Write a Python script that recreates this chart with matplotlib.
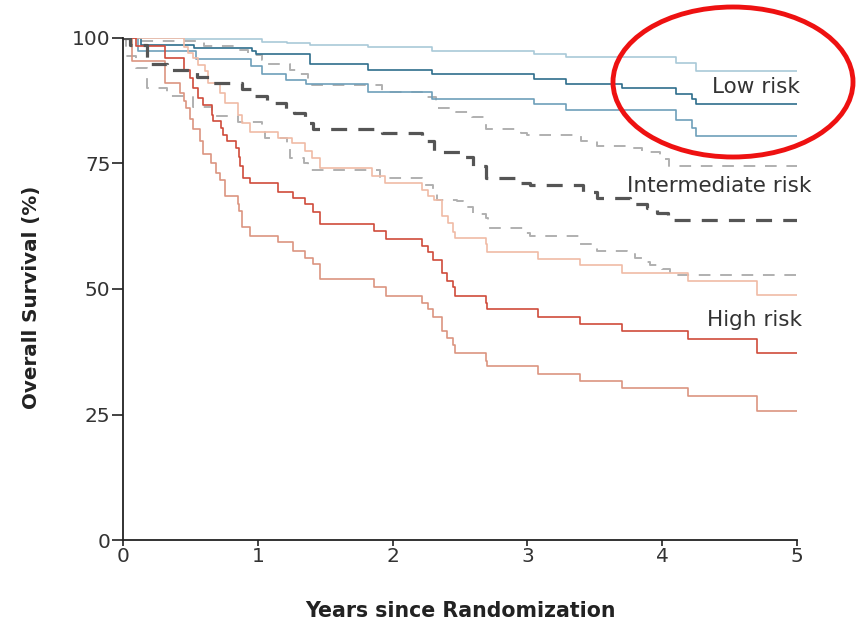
import matplotlib.pyplot as plt
from matplotlib.patches import Ellipse

plt.rcParams['font.family'] = ['DejaVu Sans']

# step times (years) and survival (%) after each step
low_upper_t = [0.45, 1.03, 1.22, 1.39, 1.82, 2.29, 3.05, 3.29, 4.10, 4.25]
low_upper_s = [99.8, 99.3, 99.1, 98.6, 98.2, 97.5, 96.9, 96.3, 95.1, 93.4]

low_mid_t = [0.13, 0.53, 0.96, 0.99, 1.39, 1.82, 2.29, 3.05, 3.29, 3.70, 4.10, 4.22, 4.25]
low_mid_s = [98.7, 98.1, 97.4, 96.9, 94.8, 93.6, 92.8, 91.8, 90.9, 90.1, 88.9, 87.8, 86.9]

low_lower_t = [0.11, 0.54, 0.95, 1.03, 1.21, 1.36, 1.82, 2.29, 3.05, 3.29, 4.10, 4.22, 4.25]
low_lower_s = [97.4, 95.8, 94.4, 92.8, 91.6, 90.8, 89.2, 87.8, 86.8, 85.6, 83.6, 82.1, 80.5]

int_mid_t = [0.05, 0.18, 0.33, 0.55, 0.65, 0.88, 0.96, 1.07, 1.21, 1.27, 1.35, 1.41,
             1.92, 2.22, 2.31, 2.50, 2.60, 2.69, 2.95, 3.02, 3.41, 3.52, 3.76, 3.89, 3.96, 4.04]
int_mid_s = [98.7, 94.8, 93.6, 92.2, 91.1, 89.8, 88.4, 87.1, 85.8, 85.1, 83.1, 81.9,
             81.0, 79.5, 77.2, 76.2, 74.5, 72.2, 71.2, 70.7, 69.4, 68.2, 66.9, 66.2, 65.2, 63.7]

int_upper_t = [0.10, 0.60, 0.85, 0.93, 1.03, 1.06, 1.24, 1.28, 1.37, 1.40, 1.92, 2.22, 2.32,
               2.47, 2.59, 2.69, 2.95, 3.00, 3.40, 3.52, 3.75, 3.85, 3.98, 4.05]
int_upper_s = [99.4, 98.4, 97.6, 96.6, 95.6, 94.8, 93.6, 92.8, 91.6, 90.6, 89.3, 88.2, 86.0,
               85.3, 84.3, 81.8, 81.0, 80.6, 79.5, 78.5, 78.0, 77.2, 75.9, 74.5]

int_lower_t = [0.02, 0.10, 0.18, 0.33, 0.52, 0.66, 0.85, 1.03, 1.05, 1.22, 1.24, 1.34, 1.37,
               1.91, 2.22, 2.30, 2.33, 2.48, 2.52, 2.60, 2.69, 2.71, 2.97, 3.02, 3.39, 3.52,
               3.74, 3.80, 3.89, 3.91, 4.00, 4.06]
int_lower_s = [96.4, 94.0, 90.0, 88.4, 86.3, 84.5, 83.2, 81.3, 80.0, 78.5, 76.1, 75.0, 73.7,
               72.1, 70.8, 69.8, 67.7, 67.5, 66.4, 64.9, 64.1, 62.1, 61.2, 60.6, 58.9, 57.6,
               57.0, 56.1, 55.3, 54.8, 54.0, 52.7]

high_mid_t = [0.10, 0.31, 0.45, 0.50, 0.52, 0.56, 0.59, 0.66, 0.67, 0.73, 0.74, 0.77, 0.84,
              0.86, 0.87, 0.89, 0.94, 1.15, 1.26, 1.35, 1.41, 1.46, 1.86, 1.95, 2.22, 2.26,
              2.30, 2.37, 2.40, 2.45, 2.46, 2.69, 2.70, 3.08, 3.39, 3.70, 4.19, 4.70]
high_mid_s = [98.5, 96.0, 93.6, 92.0, 90.0, 88.0, 86.7, 84.7, 83.5, 82.1, 80.7, 79.5, 78.1,
              76.3, 74.5, 72.1, 71.2, 69.3, 68.2, 66.9, 65.4, 62.9, 61.6, 59.9, 58.6, 57.4,
              55.7, 53.2, 51.6, 50.3, 48.6, 47.3, 46.1, 44.4, 43.1, 41.6, 40.0, 37.3]

high_upper_t = [0.45, 0.48, 0.52, 0.56, 0.61, 0.63, 0.72, 0.76, 0.85, 0.88, 0.94, 1.15, 1.25,
                1.35, 1.40, 1.46, 1.85, 1.94, 2.22, 2.26, 2.31, 2.37, 2.41, 2.45, 2.46, 2.69,
                2.70, 3.08, 3.39, 3.70, 4.19, 4.70]
high_upper_s = [98.3, 97.1, 96.1, 94.6, 93.4, 91.1, 89.1, 87.1, 84.6, 83.0, 81.3, 80.0, 79.0,
                77.5, 76.1, 74.2, 72.5, 71.2, 69.8, 68.5, 67.7, 64.5, 63.2, 61.3, 60.2, 58.9,
                57.4, 55.9, 54.8, 53.2, 51.6, 48.9]

high_lower_t = [0.07, 0.31, 0.42, 0.45, 0.47, 0.50, 0.52, 0.57, 0.59, 0.65, 0.69, 0.72, 0.76,
                0.85, 0.86, 0.88, 0.94, 1.15, 1.26, 1.35, 1.41, 1.46, 1.86, 1.95, 2.22, 2.26,
                2.30, 2.37, 2.40, 2.45, 2.46, 2.69, 2.70, 3.08, 3.39, 3.70, 4.19, 4.70]
high_lower_s = [95.4, 91.1, 89.1, 87.5, 86.1, 83.8, 81.8, 79.4, 76.8, 75.0, 73.2, 71.7, 68.5,
                66.9, 65.5, 62.3, 60.6, 59.3, 57.6, 56.2, 55.0, 52.0, 50.3, 48.6, 47.3, 46.0,
                44.4, 41.6, 40.3, 38.9, 37.3, 35.6, 34.7, 33.1, 31.7, 30.3, 28.7, 25.7]

x_ticks = [0, 1, 2, 3, 4, 5]
y_ticks = [0, 25, 50, 75, 100]


def km(ax, t, s, **kw):
    tt = [0] + t + [5]
    ss = [100] + s + [s[-1]]
    ax.step(tt, ss, where="post", **kw)


fig = plt.figure(figsize=(8.56, 6.30), dpi=100)
ax = fig.add_axes([123 / 856, 1 - 540 / 630, 674 / 856, 502 / 630])

lw = 1.2
km(ax, int_upper_t, int_upper_s, color="#b0b0b0", lw=1.4, dashes=(6, 5))
km(ax, int_lower_t, int_lower_s, color="#b0b0b0", lw=1.4, dashes=(6, 5))
km(ax, low_upper_t, low_upper_s, color="#a9c9d8", lw=lw)
km(ax, low_lower_t, low_lower_s, color="#6e9fba", lw=lw)
km(ax, low_mid_t, low_mid_s, color="#2f6e8c", lw=lw)
km(ax, high_upper_t, high_upper_s, color="#f0bba6", lw=lw)
km(ax, high_lower_t, high_lower_s, color="#dc9580", lw=lw)
km(ax, high_mid_t, high_mid_s, color="#cf4b3b", lw=lw)
km(ax, int_mid_t, int_mid_s, color="#555555", lw=2.3, dashes=(5, 3.5))

ax.set_xlim(0, 5)
ax.set_ylim(0, 100)
ax.set_xticks(x_ticks)
ax.set_yticks(y_ticks)
for s in ["top", "right"]:
    ax.spines[s].set_visible(False)
for s in ["left", "bottom"]:
    ax.spines[s].set_linewidth(1.3)
    ax.spines[s].set_color("#222222")
ax.tick_params(direction="out", width=1.2, color="#222222",
               labelsize=14.5, labelcolor="#333333")
ax.tick_params(axis="x", length=4, pad=1)
ax.tick_params(axis="y", length=8, pad=1)

ax.set_xlabel("Years since Randomization", fontsize=14.8, fontweight="bold",
              color="#222222")
ax.set_ylabel("Overall Survival (%)", fontsize=14.3, fontweight="bold",
              color="#222222")
ax.xaxis.set_label_coords(0.5, -0.122)
ax.yaxis.set_label_coords(-0.122, 0.484)

ax.text(5.02, 90.2, "Low risk", ha="right", va="center", fontsize=15.5, color="#333333")
ax.text(5.11, 70.5, "Intermediate risk", ha="right", va="center", fontsize=15.5, color="#333333")
ax.text(5.04, 43.8, "High risk", ha="right", va="center", fontsize=15.5, color="#333333")

ell = Ellipse((733 / 856, 1 - 82 / 630), 240 / 856, 150 / 630, transform=fig.transFigure,
              fill=False, edgecolor="#ee1111", lw=3.5)
fig.patches.append(ell)

fig.savefig("out.png", dpi=100)
